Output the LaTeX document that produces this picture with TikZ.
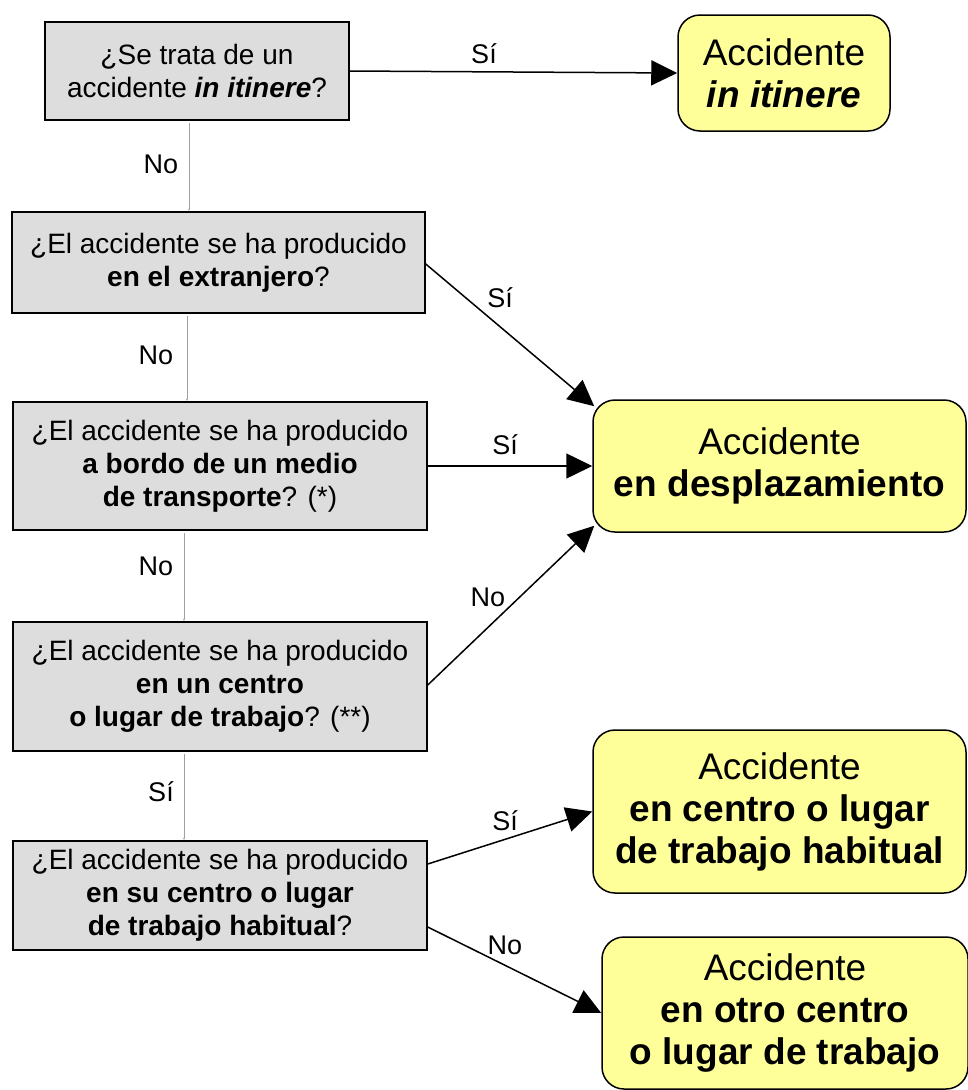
\documentclass[tikz,border=0pt]{standalone}
\usepackage{fontspec}
\setmainfont{Liberation Sans}
\usetikzlibrary{arrows.meta}
\definecolor{qgray}{HTML}{DDDDDD}
\definecolor{ayellow}{HTML}{FFFF99}
\definecolor{linegray}{HTML}{A0A0A0}
\begin{document}
\begin{tikzpicture}[x=1pt,y=-1pt,
  qbox/.style={draw=black, line width=1.5pt, fill=qgray, inner sep=0pt, align=center, font=\fontsize{28}{33}\selectfont},
  abox/.style={draw=black, line width=1.5pt, fill=ayellow, rounded corners=22pt, inner sep=0pt, align=center, font=\fontsize{37}{42}\selectfont},
  yesno/.style={inner sep=0pt, font=\fontsize{27}{30}\selectfont},
  arr/.style={line width=1.5pt, -{Triangle[length=26pt,width=25pt]}},
  thinarr/.style={draw=linegray, line width=1pt, -{Latex[length=2.5pt,width=2pt]}}]
\useasboundingbox (0,0) rectangle (967,1090);
% question boxes
\node[qbox, minimum width=304pt, minimum height=98pt] (b1) at (197,71) {¿Se trata de un\\accidente \textbf{\textit{in itinere}}?};
\node[qbox, minimum width=413pt, minimum height=101pt] (b2) at (218.5,262.5) {¿El accidente se ha producido\\\textbf{en el extranjero}?};
\node[qbox, minimum width=414pt, minimum height=128pt] (b3) at (220,466) {¿El accidente se ha producido\\\textbf{a bordo de un medio}\\\textbf{de transporte}? (*)};
\node[qbox, minimum width=414pt, minimum height=129pt] (b4) at (220,686.5) {¿El accidente se ha producido\\\textbf{en un centro}\\\textbf{o lugar de trabajo}? (**)};
\node[qbox, minimum width=414pt, minimum height=109pt] (b5) at (220,895.5) {¿El accidente se ha producido\\\textbf{en su centro o lugar}\\\textbf{de trabajo habitual}?};
% answer boxes
\node[abox, minimum width=212pt, minimum height=116pt] (y1) at (784,73) {Accidente\\\textbf{\textit{in itinere}}};
\node[abox, minimum width=373pt, minimum height=132pt] (y2) at (779.5,466) {Accidente\\\textbf{en desplazamiento}};
\node[abox, minimum width=373pt, minimum height=163pt] (y3) at (779.5,811.5) {Accidente\\\textbf{en centro o lugar}\\\textbf{de trabajo habitual}};
\node[abox, minimum width=366pt, minimum height=152pt] (y4) at (785,1013) {Accidente\\\textbf{en otro centro}\\\textbf{o lugar de trabajo}};
% vertical "No"/"Sí" connectors
\draw[thinarr] ([xshift=-8pt,yshift=-2pt]b1.south) -- ([xshift=-8pt]b1.south |- b2.north);
\draw[thinarr] ([xshift=-31.5pt,yshift=-2pt]b2.south) -- ([xshift=-31.5pt]b2.south |- b3.north);
\draw[thinarr] ([xshift=-36pt,yshift=-2pt]b3.south) -- ([xshift=-36pt]b3.south |- b4.north);
\draw[thinarr] ([xshift=-36pt,yshift=-2pt]b4.south) -- ([xshift=-36pt]b4.south |- b5.north);
% arrows to answers
\draw[arr] (b1.east) -- (y1.west);
\draw[arr] ([yshift=-1.5pt]b2.east) -- ([xshift=2pt,yshift=-7pt]y2.north west);
\draw[arr] (b3.east) -- (y2.west);
\draw[arr] ([yshift=1.5pt]b4.east) -- ([xshift=2pt,yshift=7pt]y2.south west);
\draw[arr] ([yshift=31.5pt]b5.east) -- (y3.west);
\draw[arr] ([yshift=-31.5pt]b5.east) -- (y4.west);
% labels
\node[yesno] (l1) at (484,54) {Sí};
\node[yesno] (l2) at (161,164) {No};
\node[yesno] (l3) at (500,298) {Sí};
\node[yesno] (l4) at (156,355) {No};
\node[yesno] (l5) at (505,445) {Sí};
\node[yesno] (l6) at (156,566) {No};
\node[yesno] (l7) at (488,597) {No};
\node[yesno] (l8) at (161,792) {Sí};
\node[yesno] (l9) at (505,821) {Sí};
\node[yesno] (l10) at (505,945) {No};
\end{tikzpicture}
\end{document}
